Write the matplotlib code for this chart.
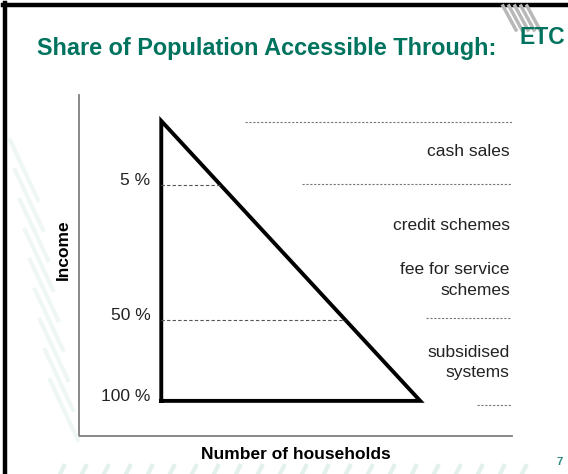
import numpy as np
import matplotlib.pyplot as plt
from matplotlib.lines import Line2D

# Data (schematic units, 0-100 on both axes)
income_labels = ['5 %', '50 %', '100 %']
income_levels = [73.6, 34.0, 10.3]
apex_level = 92.4
households_left = 19.0
households_right = 78.8

band_levels = [92.1, 73.9, 34.6, 9.1]
band_starts = [38.3, 51.5, 80.1, 91.9]
band_labels = ['cash sales', 'credit schemes', 'fee for service\nschemes', 'subsidised\nsystems']
band_label_levels = [83.3, 61.6, 45.8, 21.6]

green = '#00735E'
plt.rcParams['font.family'] = ['Liberation Sans', 'DejaVu Sans']

W, H = 568, 474
fig = plt.figure(figsize=(W / 100, H / 100), dpi=100)


def fx(px):
    return px / W


def fy(py):
    return 1 - py / H


# faint background stripes (slide decoration)
for i in range(9):
    x0 = 10 + i * 5
    fig.add_artist(Line2D([fx(x0), fx(x0 + 28)], [fy(140 + i * 30), fy(200 + i * 30)],
                          color='#eef7f4', lw=3))
for i in range(22):
    x0 = 60 + i * 22
    fig.add_artist(Line2D([fx(x0), fx(x0 + 4)], [fy(474), fy(466)],
                          color='#e3f1ed', lw=3))

# slide border
fig.add_artist(Line2D([fx(3), fx(568)], [fy(4.5), fy(4.5)], color='black', lw=3.2))
fig.add_artist(Line2D([fx(5), fx(5)], [fy(3), fy(474)], color='black', lw=3.2))

# title and logo
fig.text(fx(37), fy(48), 'Share of Population Accessible Through:',
         fontsize=16.9, fontweight='bold', color=green, ha='left', va='center')
for i in range(5):
    fig.add_artist(Line2D([fx(503 + i * 6), fx(516 + i * 6)], [fy(6), fy(30)],
                          color='#b8b8b8', lw=2.5))
fig.text(fx(542), fy(37), 'ETC', fontsize=16.5, fontweight='bold',
         color=green, ha='center', va='center')
fig.text(fx(560), fy(462), '7', fontsize=8, fontweight='bold', color='#2a8a80',
         ha='center', va='center')

# chart axes
ax = fig.add_axes([fx(79), fy(436), fx(512) - fx(79), fy(95) - fy(436)])
ax.set_xlim(0, 100)
ax.set_ylim(0, 100)
ax.patch.set_alpha(0)
for s in ['top', 'right']:
    ax.spines[s].set_visible(False)
for s in ['left', 'bottom']:
    ax.spines[s].set_color('#808080')
    ax.spines[s].set_linewidth(1.3)
ax.set_xticks([])
ax.set_yticks([])

bottom_level = income_levels[-1]
tri_x = [households_left, households_left, households_right, households_left]
tri_y = [bottom_level, apex_level, bottom_level, bottom_level]
ax.plot(tri_x, tri_y, color='black', lw=2.8, solid_joinstyle='miter')

# hypotenuse x at a given level
hyp_y = [bottom_level, apex_level]
hyp_x = [households_right, households_left]


def hyp(level):
    return np.interp(level, hyp_y, hyp_x)


for lab, lev in zip(income_labels, income_levels):
    ax.text(households_left - 2.5, lev + 1.2, lab, ha='right', va='center',
            fontsize=12.5, color='#222222')
    if lab != '100 %':
        ax.plot([households_left, hyp(lev)], [lev, lev], color='#555555', lw=0.8,
                ls=(0, (3, 2)))

for start, lev in zip(band_starts, band_levels):
    ax.plot([start, 100], [lev, lev], color='#777777', lw=0.8, ls=(0, (2, 1.5)))

for lab, lev in zip(band_labels, band_label_levels):
    ax.text(99.5, lev, lab, ha='right', va='center', fontsize=12.5, color='#222222',
            linespacing=1.45)

ax.set_xlabel('Number of households', fontsize=12.5, fontweight='bold', labelpad=8)
ax.set_ylabel('Income', fontsize=12.5, fontweight='bold')
ax.yaxis.set_label_coords(-0.018, 0.545)

fig.savefig('out.png', dpi=100)
